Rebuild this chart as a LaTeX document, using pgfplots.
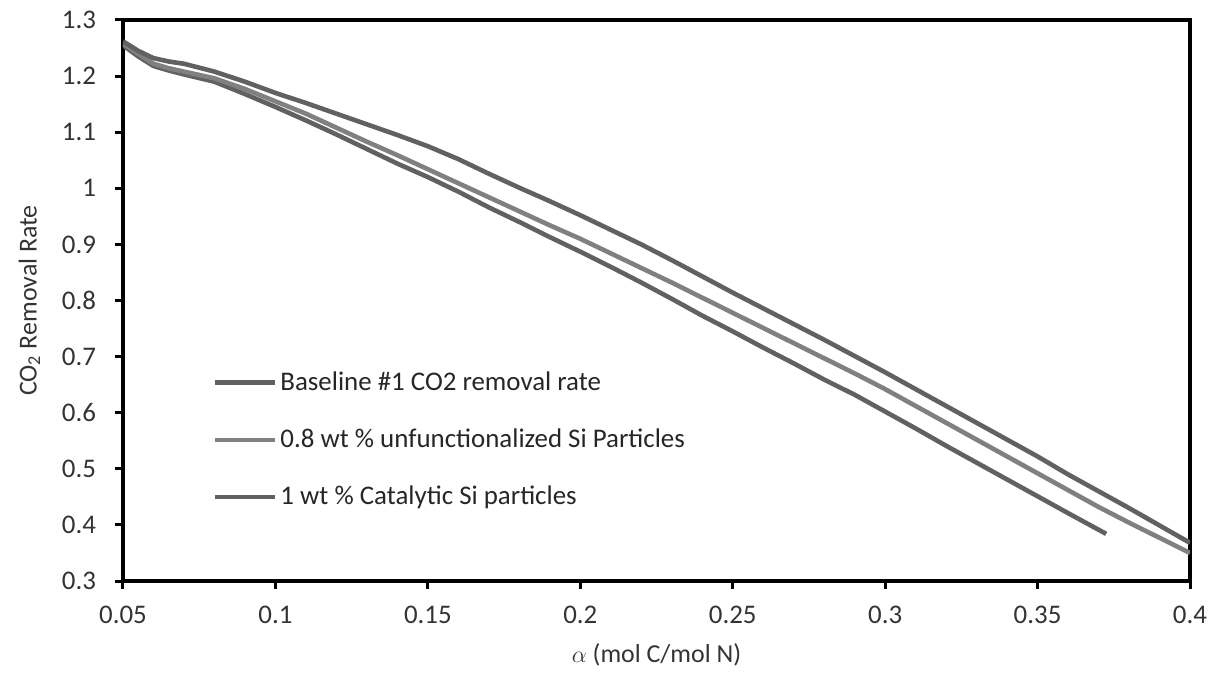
\documentclass[border=0pt]{standalone}
\usepackage{fontspec}
\setmainfont{Carlito}
\usepackage{pgfplots}
\pgfplotsset{compat=1.18}
\begin{document}
\begin{tikzpicture}
\begin{axis}[
  scale only axis,
  width=533.5bp, height=280.5bp,
  xmin=0.05, xmax=0.4, ymin=0.3, ymax=1.3,
  axis line style={line width=2.4bp, black},
  xtick={0.05,0.1,0.15,0.2,0.25,0.3,0.35,0.4},
  xticklabels={0.05,0.1,0.15,0.2,0.25,0.3,0.35,0.4},
  ytick={0.3,0.4,0.5,0.6,0.7,0.8,0.9,1.0,1.1,1.2,1.3},
  yticklabels={0.3,0.4,0.5,0.6,0.7,0.8,0.9,1,1.1,1.2,1.3},
  tick align=outside,
  xtick pos=bottom, ytick pos=left,
  major tick length=4bp,
  tick style={line width=1.5bp, black},
  tick label style={font=\fontsize{13.5}{15}\selectfont, text=black!80},
  xticklabel style={yshift=-5bp},
  yticklabel style={xshift=-6bp},
  xlabel={$\alpha$ (mol C/mol N)},
  ylabel={CO\textsubscript{2} Removal Rate},
  label style={font=\fontsize{13}{15}\selectfont, text=black!80},
  xlabel style={yshift=-3bp},
  ylabel style={yshift=4bp},
  legend style={draw=none, fill=none, at={(0.084,0.381)}, anchor=north west,
    font=\fontsize{13.5}{15}\selectfont, text=black!85, row sep=13.8bp,
    inner sep=0pt, cells={anchor=west}, nodes={inner xsep=1.5bp}},
  legend image code/.code={\draw[#1, line width=2.2bp] (0bp,0bp) -- (30bp,0bp);},
  every axis plot/.append style={line width=2.3bp},
]
% bottom (shortest) curve
\addplot[black!62] coordinates {
(0.05,1.255) (0.055,1.235) (0.06,1.218) (0.065,1.210) (0.07,1.203) (0.08,1.190)
(0.09,1.168) (0.1,1.145) (0.11,1.121) (0.12,1.096) (0.13,1.070) (0.14,1.044)
(0.15,1.020) (0.16,0.994) (0.17,0.966) (0.18,0.940) (0.19,0.913) (0.20,0.887)
(0.21,0.860) (0.22,0.832) (0.23,0.803) (0.24,0.773) (0.25,0.745) (0.26,0.716)
(0.27,0.688) (0.28,0.659) (0.29,0.632) (0.30,0.602) (0.31,0.572) (0.32,0.541)
(0.33,0.511) (0.34,0.481) (0.35,0.451) (0.36,0.421) (0.3725,0.384)};
\addlegendentry{Baseline \#1 CO2 removal rate}
% middle curve
\addplot[black!50] coordinates {
(0.05,1.258) (0.055,1.240) (0.06,1.222) (0.065,1.214) (0.07,1.208) (0.08,1.196)
(0.09,1.177) (0.1,1.155) (0.11,1.133) (0.12,1.108) (0.13,1.083) (0.14,1.059)
(0.15,1.034) (0.16,1.009) (0.17,0.984) (0.18,0.959) (0.19,0.934) (0.20,0.910)
(0.21,0.884) (0.22,0.858) (0.23,0.832) (0.24,0.805) (0.25,0.778) (0.26,0.751)
(0.27,0.724) (0.28,0.697) (0.29,0.670) (0.30,0.642) (0.31,0.612) (0.32,0.582)
(0.33,0.552) (0.34,0.522) (0.35,0.492) (0.36,0.462) (0.37,0.432) (0.38,0.404)
(0.39,0.377) (0.40,0.350)};
\addlegendentry{0.8 wt \% unfunctionalized Si Particles}
% top curve
\addplot[black!62] coordinates {
(0.05,1.262) (0.055,1.245) (0.06,1.232) (0.065,1.226) (0.07,1.222) (0.08,1.208)
(0.09,1.190) (0.1,1.170) (0.11,1.152) (0.12,1.133) (0.13,1.114) (0.14,1.095)
(0.15,1.075) (0.16,1.052) (0.17,1.026) (0.18,1.001) (0.19,0.977) (0.20,0.952)
(0.21,0.926) (0.22,0.900) (0.23,0.872) (0.24,0.843) (0.25,0.814) (0.26,0.786)
(0.27,0.758) (0.28,0.730) (0.29,0.701) (0.30,0.672) (0.31,0.642) (0.32,0.612)
(0.33,0.582) (0.34,0.552) (0.35,0.522) (0.36,0.490) (0.37,0.460) (0.38,0.430)
(0.39,0.399) (0.40,0.368)};
\addlegendentry{1 wt \% Catalytic Si particles}
\end{axis}
\useasboundingbox (-61.5bp,-58bp) rectangle (546bp,290.5bp);
\end{tikzpicture}
\end{document}
